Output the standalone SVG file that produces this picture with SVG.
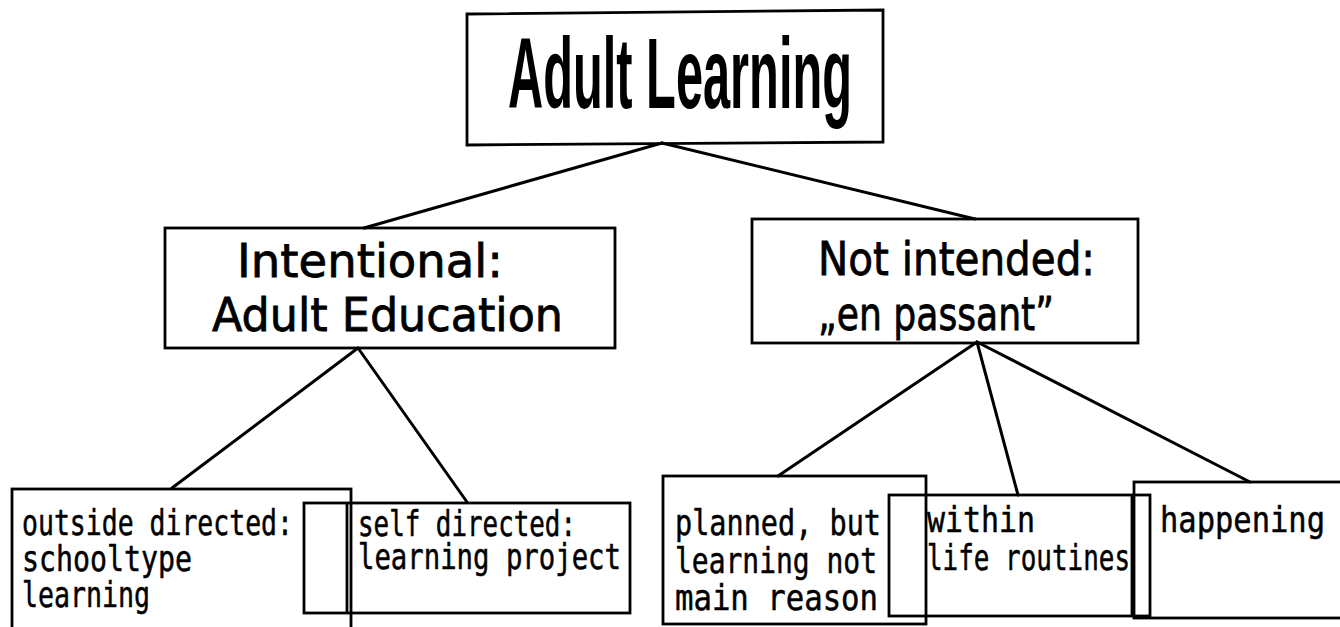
<svg xmlns="http://www.w3.org/2000/svg" width="1340" height="627" viewBox="0 0 1340 627">
  <style>
    .box { fill: none; stroke: #000; stroke-width: 2.8; }
    .edge { fill: none; stroke: #000; stroke-width: 3; stroke-linecap: round; }
    .title { font-family: "Liberation Sans", Arial, sans-serif; font-weight: bold; font-size: 100px; fill: #000; }
    .mid { font-family: "DejaVu Sans", "Liberation Sans", sans-serif; font-size: 47px; fill: #000; stroke: #000; stroke-width: 0.8; }
    .leaf { font-family: "DejaVu Sans Mono", "Liberation Mono", monospace; font-size: 35px; fill: #000; stroke: #000; stroke-width: 0.5; }
  </style>
  <rect width="1340" height="627" fill="#fff"/>

  <!-- connectors -->
  <g id="connectors">
    <line class="edge" stroke-width="4" x1="662" y1="143" x2="364" y2="228"/>
    <line class="edge" stroke-width="4" x1="662" y1="143" x2="975" y2="219"/>
    <line class="edge" x1="358" y1="348" x2="172" y2="488"/>
    <line class="edge" x1="358" y1="348" x2="467" y2="502"/>
    <line class="edge" x1="977" y1="342" x2="778" y2="476"/>
    <line class="edge" x1="977" y1="342" x2="1018" y2="495"/>
    <line class="edge" x1="977" y1="342" x2="1250" y2="482"/>
  </g>

  <!-- root -->
  <g id="adult-learning">
    <polygon class="box" points="467,14 883,10 883,142 467,145"/>
    <text class="title" x="508" y="108" textLength="344" lengthAdjust="spacingAndGlyphs">Adult Learning</text>
  </g>

  <!-- second level -->
  <g id="intentional">
    <rect class="box" x="165" y="228" width="450" height="120"/>
    <text class="mid" x="237" y="277" textLength="266" lengthAdjust="spacingAndGlyphs">Intentional:</text>
    <text class="mid" x="212" y="331" textLength="351" lengthAdjust="spacingAndGlyphs">Adult Education</text>
  </g>
  <g id="not-intended">
    <rect class="box" x="752" y="219" width="386" height="124"/>
    <text class="mid" x="818" y="275" textLength="277" lengthAdjust="spacingAndGlyphs">Not intended:</text>
    <text class="mid" x="818" y="330" textLength="236" lengthAdjust="spacingAndGlyphs">„en passant”</text>
  </g>

  <!-- leaves -->
  <g id="outside-directed">
    <rect class="box" x="12" y="489" width="339" height="160"/>
    <text class="leaf" x="22" y="535" textLength="271" lengthAdjust="spacingAndGlyphs">outside directed:</text>
    <text class="leaf" x="22" y="571" textLength="170" lengthAdjust="spacingAndGlyphs">schooltype</text>
    <text class="leaf" x="22" y="607" textLength="128" lengthAdjust="spacingAndGlyphs">learning</text>
  </g>
  <g id="self-directed">
    <rect class="box" x="304" y="503" width="326" height="110"/>
    <line class="box" x1="347" y1="503" x2="347" y2="613"/>
    <text class="leaf" x="358" y="536" textLength="218" lengthAdjust="spacingAndGlyphs">self directed:</text>
    <text class="leaf" x="358" y="569" textLength="263" lengthAdjust="spacingAndGlyphs">learning project</text>
  </g>
  <g id="planned">
    <rect class="box" x="663" y="476" width="263" height="148"/>
    <text class="leaf" x="675" y="535" textLength="206" lengthAdjust="spacingAndGlyphs">planned, but</text>
    <text class="leaf" x="675" y="573" textLength="202" lengthAdjust="spacingAndGlyphs">learning not</text>
    <text class="leaf" x="675" y="610" textLength="203" lengthAdjust="spacingAndGlyphs">main reason</text>
  </g>
  <g id="life-routines">
    <rect class="box" x="889" y="495" width="261" height="121"/>
    <line class="box" x1="1132" y1="495" x2="1132" y2="616"/>
    <text class="leaf" x="927" y="532" textLength="108" lengthAdjust="spacingAndGlyphs">within</text>
    <text class="leaf" x="927" y="570" textLength="203" lengthAdjust="spacingAndGlyphs">life routines</text>
  </g>
  <g id="happening">
    <rect class="box" x="1134" y="482" width="230" height="136"/>
    <text class="leaf" x="1160" y="532" textLength="165" lengthAdjust="spacingAndGlyphs">happening</text>
  </g>
</svg>
